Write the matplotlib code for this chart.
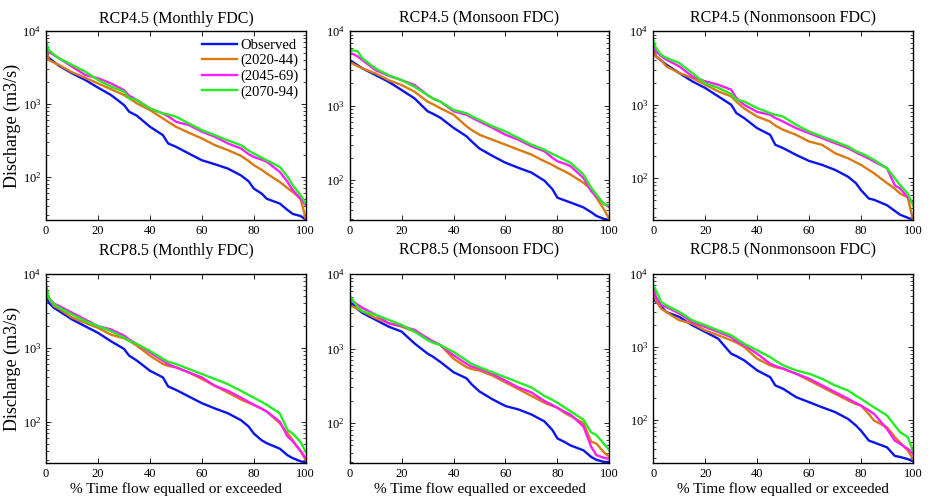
#!/usr/bin/env python3
"""
Courbes des débits classés (FDC) - observé vs projections RCP4.5 / RCP8.5
Sauvegarde la figure dans out.png
"""

import matplotlib
matplotlib.use('Agg')
import matplotlib.pyplot as plt
from matplotlib.ticker import LogLocator, NullFormatter

plt.rcParams['font.family'] = ['Liberation Serif', 'DejaVu Serif']
plt.rcParams['mathtext.fontset'] = 'custom'
plt.rcParams['mathtext.rm'] = 'Liberation Serif'

# % du temps (abscisse commune à toutes les courbes)
pct = [0, 1, 3, 5, 10, 15, 20, 25, 30, 32, 35, 40, 45, 47, 50, 55, 60, 65,
       70, 75, 78, 80, 83, 85, 90, 93, 95, 98, 100]

series_labels = ['Observed', '(2020-44)', '(2045-69)', '(2070-94)']

# --- RCP4.5 mensuel ---
m45_obs = [5250, 4300, 3800, 3350, 2640, 2150, 1680, 1330, 970, 785, 690, 488, 374, 288, 259,
           209, 169, 149, 130, 105, 87, 69, 59, 50, 43, 35, 31, 29, 26]
m45_p1 = [5840, 4030, 3700, 3440, 2730, 2300, 1920, 1600, 1330, 1200, 1020, 826, 635, 570, 488,
          403, 337, 273, 233, 195, 165, 145, 125, 111, 85, 70, 62, 50, 27]
m45_p2 = [5800, 5250, 4700, 4250, 3270, 2510, 2260, 1920, 1550, 1300, 1135, 870, 742, 680, 571,
          514, 417, 355, 288, 246, 205, 188, 172, 161, 117, 85, 66, 50, 41]
m45_p3 = [7360, 5530, 4800, 4250, 3440, 2790, 2140, 1740, 1480, 1200, 1135, 870, 742, 720, 670,
          542, 438, 374, 317, 273, 230, 209, 185, 169, 137, 100, 77, 56, 43]

# --- RCP4.5 mousson ---
s45_obs = [4060, 3900, 3500, 3150, 2570, 2090, 1620, 1250, 840, 780, 685, 503, 387, 330, 265,
           211, 171, 146, 126, 98, 76, 58, 53, 50, 43, 37, 33, 30, 29]
s45_p1 = [3740, 3700, 3400, 3150, 2700, 2200, 1890, 1540, 1130, 1050, 920, 755, 528, 470, 406,
          348, 299, 256, 220, 179, 160, 146, 130, 119, 92, 75, 58, 40, 30]
s45_p2 = [4990, 4990, 4600, 4060, 2990, 2520, 2200, 1890, 1390, 1250, 1130, 840, 755, 690, 612,
          503, 406, 348, 284, 244, 200, 179, 165, 154, 107, 71, 60, 48, 43]
s45_p3 = [5520, 5520, 5400, 4280, 3150, 2570, 2200, 1790, 1390, 1250, 1130, 875, 790, 720, 644,
          528, 450, 367, 299, 256, 225, 209, 185, 171, 119, 79, 64, 47, 46]

# --- RCP4.5 hors mousson ---
n45_obs = [5620, 4560, 4000, 3510, 2700, 2080, 1690, 1300, 1000, 770, 658, 480, 390, 285, 257,
           208, 172, 152, 130, 105, 86, 69, 53, 51, 43, 36, 32, 29, 27]
n45_p1 = [5340, 4560, 4060, 3330, 2700, 2310, 1870, 1520, 1300, 1100, 890, 690, 590, 520, 456,
          390, 316, 285, 219, 187, 165, 152, 130, 117, 86, 72, 62, 55, 27]
n45_p2 = [6930, 5340, 4600, 4110, 3330, 2430, 2080, 1870, 1600, 1230, 1000, 800, 730, 660, 590,
          480, 411, 351, 300, 257, 225, 208, 185, 169, 137, 80, 73, 55, 46]
n45_p3 = [7460, 5930, 4800, 4330, 3700, 2700, 1950, 1700, 1400, 1170, 1110, 900, 770, 730, 690,
          533, 433, 370, 316, 270, 235, 219, 195, 178, 137, 100, 81, 62, 43]

# --- RCP8.5 mensuel ---
m85_obs = [6240, 4110, 3500, 3160, 2430, 1970, 1600, 1230, 970, 785, 671, 490, 398, 300, 270,
           219, 178, 151, 130, 105, 86, 69, 56, 51, 43, 35, 32, 29, 28]
m85_p1 = [6240, 4680, 3700, 3400, 2570, 2190, 1870, 1510, 1350, 1250, 1070, 785, 605, 570, 545,
          465, 378, 306, 248, 200, 180, 169, 150, 137, 95, 70, 56, 40, 30]
m85_p2 = [6930, 4790, 4000, 3700, 3000, 2430, 1970, 1780, 1470, 1300, 1130, 870, 671, 600, 545,
          465, 398, 306, 262, 212, 185, 169, 150, 137, 100, 63, 54, 40, 32]
m85_p3 = [7310, 4800, 3900, 3510, 2850, 2310, 1970, 1690, 1370, 1250, 1130, 910, 710, 650, 605,
          517, 442, 378, 323, 262, 230, 212, 185, 169, 130, 77, 69, 53, 39]

# --- RCP8.5 mousson ---
s85_obs = [4110, 4000, 3400, 3000, 2430, 1970, 1690, 1170, 855, 780, 658, 481, 398, 330, 265,
           208, 169, 152, 130, 105, 81, 62, 55, 50, 43, 35, 32, 30, 30]
s85_p1 = [3700, 3700, 3400, 3160, 2570, 2190, 1970, 1690, 1370, 1250, 1110, 730, 562, 530, 507,
          433, 351, 285, 231, 187, 170, 160, 135, 124, 100, 56, 53, 40, 35]
s85_p2 = [4560, 4400, 3900, 3510, 2850, 2190, 2010, 1780, 1370, 1250, 1110, 811, 624, 570, 533,
          456, 370, 300, 257, 197, 175, 160, 140, 130, 90, 48, 37, 34, 33]
s85_p3 = [5070, 4600, 3600, 3160, 2850, 2430, 2080, 1690, 1300, 1200, 1110, 900, 693, 620, 562,
          480, 411, 351, 300, 231, 205, 187, 160, 144, 111, 75, 69, 52, 43]

# --- RCP8.5 hors mousson ---
n85_obs = [4630, 4200, 3600, 3020, 2590, 1990, 1610, 1300, 809, 750, 656, 478, 386, 297, 267,
           205, 175, 149, 128, 103, 84, 71, 52, 49, 42, 32, 31, 29, 27]
n85_p1 = [6030, 4380, 3370, 3020, 2330, 2100, 1690, 1450, 1240, 1150, 1000, 691, 560, 530, 504,
          430, 348, 282, 228, 185, 165, 157, 120, 98, 79, 58, 49, 38, 29]
n85_p2 = [6700, 4870, 3740, 3550, 2880, 2210, 1880, 1610, 1370, 1200, 1055, 809, 590, 550, 504,
          430, 367, 297, 240, 195, 170, 157, 135, 121, 75, 52, 47, 40, 34]
n85_p3 = [7070, 6030, 4160, 3740, 3030, 2330, 1990, 1690, 1450, 1300, 1110, 900, 728, 650, 560,
          478, 430, 367, 297, 253, 215, 195, 165, 149, 115, 84, 68, 58, 38]

titles = ['RCP4.5 (Monthly FDC)', 'RCP4.5 (Monsoon FDC)', 'RCP4.5 (Nonmonsoon FDC)',
          'RCP8.5 (Monthly FDC)', 'RCP8.5 (Monsoon FDC)', 'RCP8.5 (Nonmonsoon FDC)']
panels = [
    [m45_obs, m45_p1, m45_p2, m45_p3],
    [s45_obs, s45_p1, s45_p2, s45_p3],
    [n45_obs, n45_p1, n45_p2, n45_p3],
    [m85_obs, m85_p1, m85_p2, m85_p3],
    [s85_obs, s85_p1, s85_p2, s85_p3],
    [n85_obs, n85_p1, n85_p2, n85_p3],
]
y_bottom = [25.5, 29, 27, 27.5, 29, 25.6]

colors = ['#0A14F0', '#DA7A12', '#FF1CFF', '#22EE22']

fig, axes = plt.subplots(2, 3, figsize=(9.3, 5.03), dpi=100)
fig.subplots_adjust(left=0.0495, right=0.9817, top=0.938, bottom=0.0795,
                    wspace=0.169, hspace=0.286)

for k, ax in enumerate(axes.flat):
    for serie, col, lab in zip(panels[k], colors, series_labels):
        ax.semilogy(pct, serie, '-', color=col, linewidth=1.7, label=lab)

    ax.set_xlim(0, 100)
    ax.set_ylim(y_bottom[k], 1e4)
    ax.set_xticks([0, 20, 40, 60, 80, 100])
    ax.yaxis.set_major_locator(LogLocator(base=10, numticks=10))
    ax.yaxis.set_minor_locator(LogLocator(base=10, subs=range(2, 10), numticks=10))
    ax.yaxis.set_minor_formatter(NullFormatter())
    ax.tick_params(which='both', direction='in', top=True, right=True, labelsize=9)
    ax.tick_params(which='major', length=3.5, width=0.6)
    ax.tick_params(which='minor', length=2, width=0.5)
    for sp in ax.spines.values():
        sp.set_linewidth(1.0)

    row = k // 3
    ax.set_title(titles[k], fontsize=11.5, pad=6 if row == 0 else 14)
    if k % 3 == 0:
        ax.set_ylabel('Discharge (m3/s)', fontsize=13, labelpad=1)
    if row == 1:
        ax.set_xlabel('% Time flow equalled or exceeded', fontsize=11, labelpad=2)

axes[0, 0].legend(loc='upper right', frameon=False, fontsize=10.5, handlelength=2.4,
                  labelspacing=0.15, handletextpad=0.2, borderaxespad=0.3, borderpad=0.2)

plt.savefig('out.png', dpi=100)
